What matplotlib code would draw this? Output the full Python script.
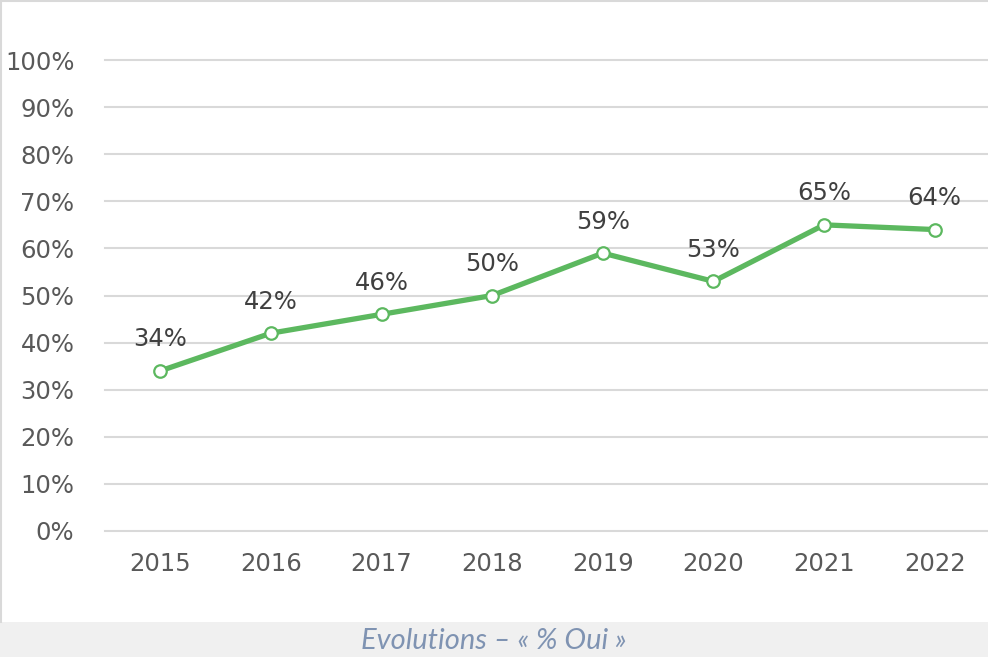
import matplotlib
matplotlib.use("Agg")
import matplotlib.pyplot as plt
from matplotlib.patches import Rectangle
from matplotlib.ticker import FuncFormatter

years = ["2015", "2016", "2017", "2018", "2019", "2020", "2021", "2022"]
values = [34, 42, 46, 50, 59, 53, 65, 64]
yticks = [0, 10, 20, 30, 40, 50, 60, 70, 80, 90, 100]
caption = "Evolutions – « % Oui »"

W, H = 988, 657
fig = plt.figure(figsize=(W / 100, H / 100), dpi=100)
fig.patch.set_facecolor("white")

# bottom caption strip
fig.patches.append(Rectangle((0, 0), 1, 35 / H, transform=fig.transFigure,
                             facecolor="#f0f0f0", edgecolor="none", zorder=0))
# chart frame borders (top and left)
fig.add_artist(plt.Line2D([1 / W, 1 / W], [35 / H, 1], transform=fig.transFigure,
                          color="#d9d9d9", lw=1.5))
fig.add_artist(plt.Line2D([0, 1], [1 - 1 / H, 1 - 1 / H], transform=fig.transFigure,
                          color="#d9d9d9", lw=1.5))

ax = fig.add_axes([105 / W, 1 - 531 / H, (990 - 105) / W, (531 - 60) / H])
ax.set_facecolor("none")
x = list(range(len(years)))
ax.plot(x, values, color="#5cb85f", lw=3.8, marker="o", markersize=9,
        markerfacecolor="white", markeredgecolor="#5cb85f", markeredgewidth=1.6,
        zorder=3, clip_on=False)
for xi, v in zip(x, values):
    ax.annotate(f"{v}%", (xi, v), xytext=(0, 14), textcoords="offset points",
                ha="center", va="bottom", fontsize=17.5, color="#404040")

ax.set_xlim(-0.5, len(years) - 0.5)
ax.set_ylim(0, 100)
ax.set_yticks(yticks)
ax.yaxis.set_major_formatter(FuncFormatter(lambda v, p: f"{int(v)}%"))
ax.set_xticks(x)
ax.set_xticklabels(years)
ax.grid(axis="y", color="#d9d9d9", lw=1.5)
for gl in ax.get_ygridlines():
    gl.set_clip_on(False)
ax.set_axisbelow(True)
for s in ax.spines.values():
    s.set_visible(False)
ax.tick_params(axis="both", length=0, labelsize=17.5, colors="#595959")
ax.tick_params(axis="y", pad=22)
ax.tick_params(axis="x", pad=15)

fig.text(0.5, 16 / H, caption, ha="center", va="center", fontsize=21,
         style="italic", color="#7f93b2", family="Lato")

fig.savefig("out.png", dpi=100)
